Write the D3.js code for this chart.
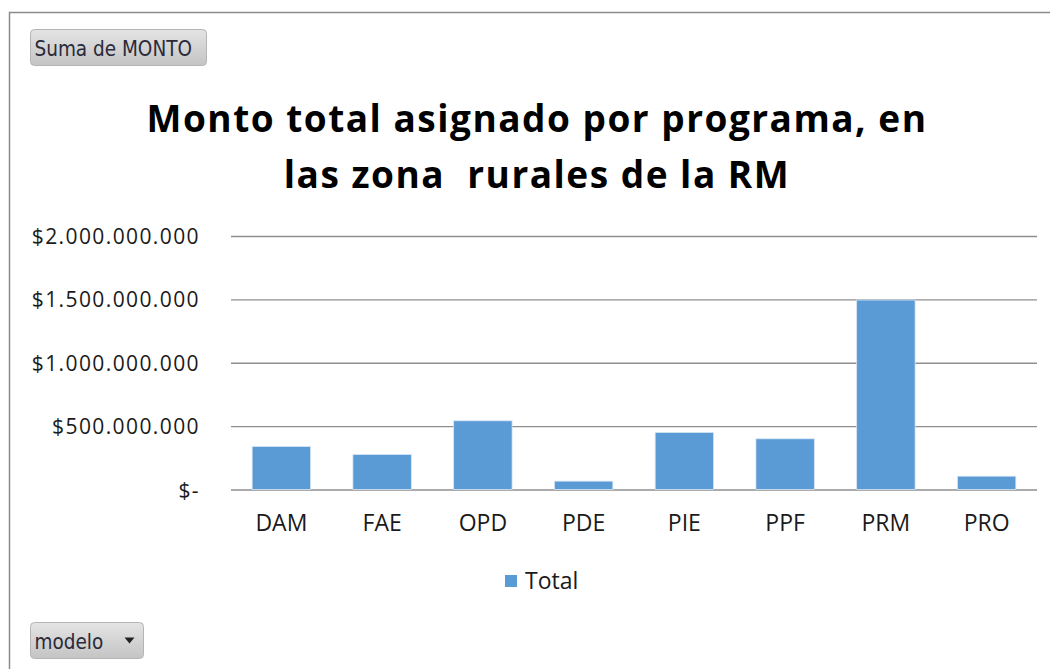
<!DOCTYPE html>
<html>
<head>
<meta charset="utf-8">
<script src="https://cdn.jsdelivr.net/npm/d3@7"></script>
<style>
  body { margin: 0; background: #fff; }
  svg { display: block; font-family: "Open Sans", sans-serif; }
</style>
</head>
<body>
<div id="chart"></div>
<script>
var programas = ["DAM", "FAE", "OPD", "PDE", "PIE", "PPF", "PRM", "PRO"];
var montos = [339000000, 276000000, 542000000, 66000000, 450000000, 400000000, 1495000000, 105000000];
var yTicks = [0, 500000000, 1000000000, 1500000000, 2000000000];
var titulo = ["Monto total asignado por programa, en", "las zona  rurales de la RM"];
var serie = "Total";

function init()
{
    const width = 1050;
    const height = 669;
    var margin = {top: 236, right: 13, bottom: 180, left: 231};

    var svg = d3.select("#chart")
        .append("svg")
        .attr("width", width)
        .attr("height", height);

    // chart frame (only top and left visible)
    svg.append("path")
        .attr("d", "M9.5,669 V12.5 H1050")
        .attr("fill", "none")
        .attr("stroke", "#8c8c8c")
        .attr("stroke-width", 1.5);

    var x = d3.scaleBand()
        .domain(programas)
        .range([margin.left, width - margin.right])
        .paddingInner(0.42)
        .paddingOuter(0.21);

    var y = d3.scaleLinear()
        .domain([0, 2000000000])
        .range([489.5, margin.top]);

    function money(v) {
        if (v === 0) return "$-";
        return "$" + d3.format(",")(v).replace(/,/g, ".");
    }

    var yAxis = svg.append("g")
        .attr("transform", "translate(" + margin.left + ",0)")
        .call(d3.axisLeft(y).tickValues(yTicks).tickFormat(money)
            .tickSize(-(width - margin.right - margin.left)).tickPadding(31));
    yAxis.select(".domain").remove();
    yAxis.selectAll("line").attr("stroke", "#8f8f8f").attr("stroke-width", 1.3);
    yAxis.selectAll("text")
        .attr("fill", "#1a1a1a")
        .attr("dy", "0.36em")
        .style("font-size", "21px")
        .style("letter-spacing", "1.4px")
        .style("font-family", "'Open Sans', sans-serif");

    svg.selectAll("rect.bar")
        .data(montos)
        .enter()
        .append("rect")
        .attr("class", "bar")
        .attr("x", function(d, i) { return x(programas[i]); })
        .attr("width", x.bandwidth())
        .attr("y", function(d) { return y(d); })
        .attr("height", function(d) { return y(0) - y(d); })
        .attr("fill", "#5b9bd5")
        .attr("stroke", "#d6e6f5")
        .attr("stroke-width", 0.8);

    var xAxis = svg.append("g")
        .attr("transform", "translate(0," + y(0) + ")")
        .call(d3.axisBottom(x).tickSize(0).tickPadding(25));
    xAxis.select(".domain").remove();
    xAxis.selectAll("text")
        .attr("fill", "#1a1a1a")
        .style("font-size", "23px")
        .style("font-family", "'Open Sans', sans-serif");

    // title
    svg.append("g")
        .selectAll("text")
        .data(titulo)
        .enter()
        .append("text")
        .attr("x", 537)
        .attr("y", function(d, i) { return 132 + i * 56; })
        .attr("text-anchor", "middle")
        .style("font-size", "37px")
        .style("font-weight", "bold")
        .style("letter-spacing", "1.5px")
        .style("white-space", "pre")
        .attr("fill", "#000")
        .text(function(d) { return d; });

    // legend
    svg.append("rect")
        .attr("x", 505).attr("y", 575)
        .attr("width", 12).attr("height", 12)
        .attr("fill", "#5b9bd5");
    svg.append("text")
        .attr("x", 525).attr("y", 589)
        .style("font-size", "23px")
        .attr("fill", "#1a1a1a")
        .text(serie);

    // pivot buttons
    var grad = svg.append("defs").append("linearGradient")
        .attr("id", "btn").attr("x1", 0).attr("x2", 0).attr("y1", 0).attr("y2", 1);
    grad.append("stop").attr("offset", "0%").attr("stop-color", "#e4e4e4");
    grad.append("stop").attr("offset", "100%").attr("stop-color", "#c4c4c4");

    function button(x0, y0, w, label, arrow) {
        var g = svg.append("g");
        g.append("rect")
            .attr("x", x0).attr("y", y0)
            .attr("width", w).attr("height", 36)
            .attr("rx", 4)
            .attr("fill", "url(#btn)")
            .attr("stroke", "#b5b5b5");
        g.append("text")
            .attr("x", x0 + 4).attr("y", y0 + 26)
            .style("font-size", "20.5px")
            .style("font-family", "'DejaVu Sans Condensed', 'Open Sans', sans-serif")
            .style("font-stretch", "condensed")
            .attr("fill", "#2a2a3a")
            .text(label);
        if (arrow) {
            g.append("path")
                .attr("d", "M" + (x0 + 94) + "," + (y0 + 15) + " l10,0 l-5,6 z")
                .attr("fill", "#222");
        }
    }
    button(30.5, 29.5, 176, "Suma de MONTO", false);
    button(30.5, 622.5, 113, "modelo", true);
}

init();
</script>
</body>
</html>
